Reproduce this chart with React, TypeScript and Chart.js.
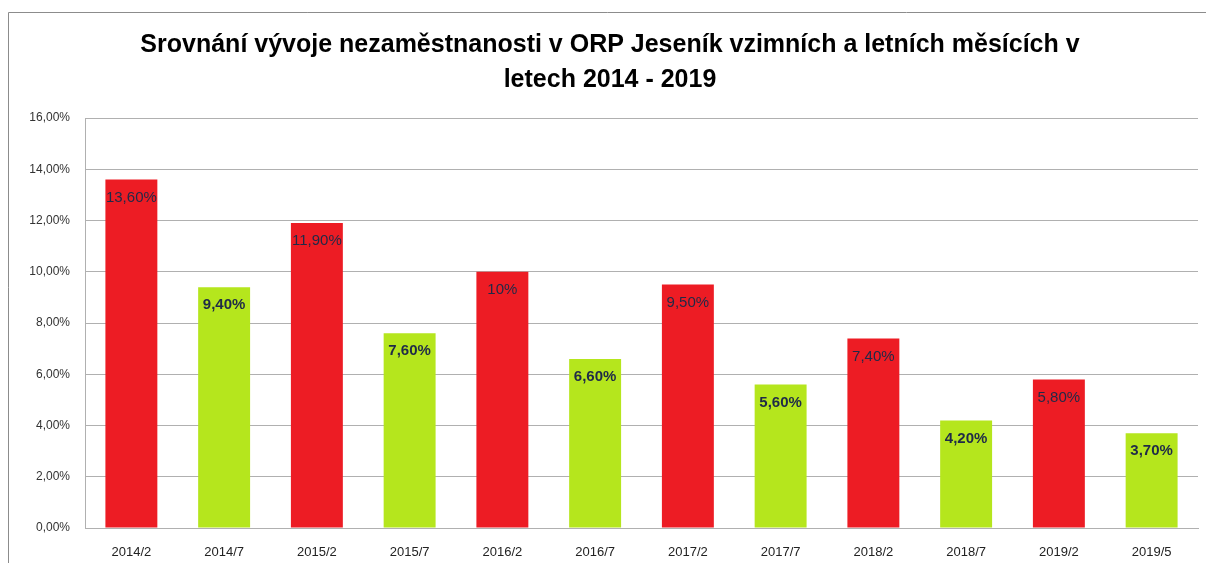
import React, { useEffect, useRef } from "react";
import { Chart, registerables } from "chart.js";

Chart.register(...registerables);

const titleLines = [
  "Srovnání vývoje nezaměstnanosti v ORP Jeseník vzimních a letních měsících v",
  "letech 2014 - 2019",
];
const categories = [
  "2014/2", "2014/7", "2015/2", "2015/7", "2016/2", "2016/7",
  "2017/2", "2017/7", "2018/2", "2018/7", "2019/2", "2019/5",
];
const values = [13.6, 9.4, 11.9, 7.6, 10.0, 6.6, 9.5, 5.6, 7.4, 4.2, 5.8, 3.7];
const valueLabels = [
  "13,60%", "9,40%", "11,90%", "7,60%", "10%", "6,60%",
  "9,50%", "5,60%", "7,40%", "4,20%", "5,80%", "3,70%",
];
const winterColor = "#ED1C24";
const summerColor = "#B5E61D";

const FONT = "'Liberation Sans', Arial, sans-serif";

export default function App() {
  const ref = useRef<HTMLCanvasElement>(null);
  useEffect(() => {
    if (!ref.current) return;
    const deco = {
      id: "deco",
      beforeDraw(chart: any) {
        const ctx = chart.ctx;
        ctx.save();
        ctx.fillStyle = "#ffffff";
        ctx.fillRect(0, 0, chart.width, chart.height);
        ctx.strokeStyle = "#8c8c8c";
        ctx.lineWidth = 1;
        ctx.beginPath();
        ctx.moveTo(8.5, chart.height);
        ctx.lineTo(8.5, 12.5);
        ctx.lineTo(chart.width, 12.5);
        ctx.stroke();
        ctx.fillStyle = "#000000";
        ctx.font = "bold 25px " + FONT;
        ctx.textAlign = "center";
        ctx.textBaseline = "middle";
        ctx.fillText(titleLines[0], 610, 45);
        ctx.fillText(titleLines[1], 610, 80);
        ctx.restore();
      },
      afterDatasetsDraw(chart: any) {
        const ctx = chart.ctx;
        const meta = chart.getDatasetMeta(0);
        ctx.save();
        ctx.fillStyle = "#1F2A48";
        ctx.textAlign = "center";
        ctx.textBaseline = "middle";
        meta.data.forEach((bar: any, i: number) => {
          ctx.font = (i % 2 === 1 ? "bold " : "") + "15px " + FONT;
          ctx.fillText(valueLabels[i], bar.x, bar.y + 18);
        });
        ctx.restore();
      },
    };
    const chart = new Chart(ref.current, {
      type: "bar",
      data: {
        labels: categories,
        datasets: [
          {
            data: values,
            backgroundColor: values.map((_, i) => (i % 2 === 0 ? winterColor : summerColor)),
            categoryPercentage: 1,
            barPercentage: 0.56,
          },
        ],
      },
      options: {
        animation: false,
        responsive: false,
        layout: { padding: { top: 118, right: 8, left: 0, bottom: 0 } },
        plugins: { legend: { display: false }, title: { display: false }, tooltip: { enabled: false } },
        scales: {
          x: {
            grid: { display: false },
            border: { color: "#b0b0b0" },
            ticks: { color: "#222", font: { family: FONT, size: 13 }, padding: 9 },
            afterFit(scale: any) { scale.height = 35; },
          },
          y: {
            min: 0,
            max: 16,
            ticks: {
              stepSize: 2,
              color: "#333",
              font: { family: FONT, size: 12 },
              padding: 15,
              callback: (v: any) => Number(v).toFixed(2).replace(".", ",") + "%",
            },
            grid: { color: "#b0b0b0", drawTicks: false },
            border: { color: "#b0b0b0" },
            afterFit(scale: any) { scale.width = 85; },
          },
        },
      },
      plugins: [deco],
    });
    return () => chart.destroy();
  }, []);
  return (
    <div style={{ position: "fixed", left: 0, top: 0, width: 1206, height: 563 }}>
      <canvas ref={ref} width={1206} height={563} style={{ width: 1206, height: 563 }} />
    </div>
  );
}
